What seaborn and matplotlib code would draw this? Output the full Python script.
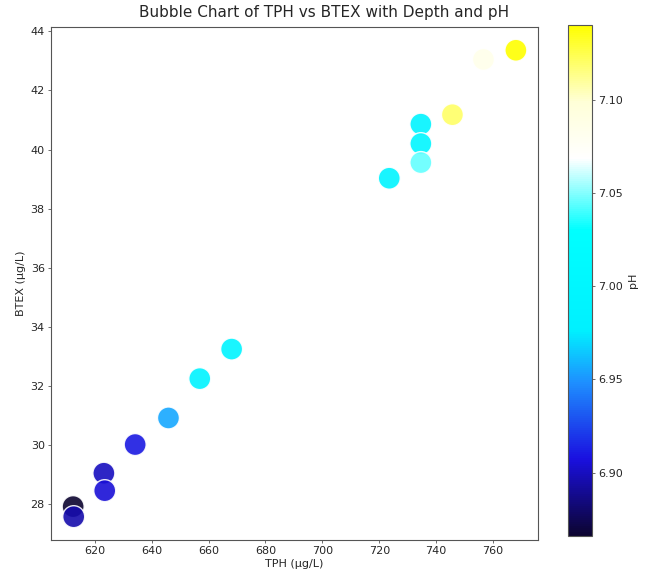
import numpy as np
import pandas as pd
import matplotlib
matplotlib.use("Agg")
import matplotlib.pyplot as plt
import seaborn as sns
from matplotlib.colors import LinearSegmentedColormap, Normalize
from matplotlib.cm import ScalarMappable

# Sample measurements
tph = [612.4, 612.6, 623.2, 623.5, 634.2, 645.9, 656.9, 668.1,
       723.5, 734.6, 734.6, 734.6, 745.7, 756.6, 768.0]
btex = [27.92, 27.58, 29.05, 28.46, 30.02, 30.92, 32.25, 33.25,
        39.03, 40.86, 40.20, 39.56, 41.18, 43.05, 43.36]
ph = [6.866, 6.895, 6.900, 6.905, 6.910, 6.955, 6.985, 6.990,
      6.990, 6.990, 7.000, 7.045, 7.120, 7.085, 7.140]

df = pd.DataFrame({"TPH": tph, "BTEX": btex, "pH": ph})

sns.set_style("ticks")
plt.rcParams["font.family"] = ["DejaVu Sans"]

cmap = LinearSegmentedColormap.from_list(
    "ph_map",
    [(0.00, "#0c0430"), (0.15, "#1a10e0"), (0.30, "#1e90ff"),
     (0.40, "#00f0ff"), (0.60, "#00ffff"), (0.74, "#ffffff"),
     (0.85, "#ffffd8"), (1.00, "#ffff00")],
)
norm = Normalize(vmin=min(ph), vmax=max(ph))

fig = plt.figure(figsize=(6.49, 5.73), dpi=100)
ax = fig.add_axes([0.0786, 0.0576, 0.7504, 0.8954])
cax = fig.add_axes([0.875, 0.0646, 0.037, 0.8914])

sns.scatterplot(data=df, x="TPH", y="BTEX", hue="pH", palette=cmap,
                hue_norm=norm, s=250, alpha=0.9, edgecolor="white",
                linewidth=1, legend=False, ax=ax)

fig.suptitle("Bubble Chart of TPH vs BTEX with Depth and pH",
             fontsize=11, x=0.5, y=0.979, va="center")
ax.set_xlabel("TPH (µg/L)", fontsize=8, labelpad=2)
ax.set_ylabel("BTEX (µg/L)", fontsize=8, labelpad=3)
ax.tick_params(labelsize=8, length=2.5, width=0.6, pad=2, color="#555555")
for s in ax.spines.values():
    s.set_color("#555555")
    s.set_linewidth(0.8)

sm = ScalarMappable(norm=norm, cmap=cmap)
cb = fig.colorbar(sm, cax=cax)
cb.set_ticks([6.90, 6.95, 7.00, 7.05, 7.10])
cb.ax.tick_params(labelsize=8, length=2.5, width=0.6, pad=2, color="#555555")
cb.set_label("pH", fontsize=8, labelpad=4)
cb.outline.set_edgecolor("#555555")
cb.outline.set_linewidth(0.8)

fig.savefig("out.png", dpi=100)
